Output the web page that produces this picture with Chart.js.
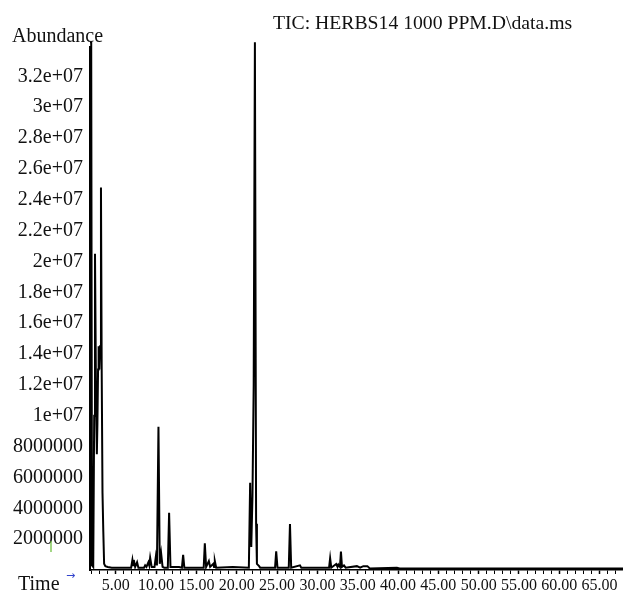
<!DOCTYPE html>
<html>
<head>
<meta charset="utf-8">
<script src="https://cdn.jsdelivr.net/npm/chart.js@4.4.1/dist/chart.umd.min.js"></script>
<style>
  body { margin: 0; background: #fff; }
</style>
</head>
<body>
<canvas id="ticChart" width="623" height="594"></canvas>
<script>
// retention time (min) and abundance
const times = [
    1.80, 1.95, 2.05, 2.20, 2.32, 2.42, 2.55, 2.65, 2.72, 2.80, 2.87, 2.95, 3.05, 3.16, 3.25, 3.35, 3.45, 3.55, 3.70, 4.00, 4.50,
    6.90, 7.06, 7.15, 7.23, 7.40, 7.64, 7.80,
    8.50, 8.64, 8.80, 9.04, 9.15, 9.26, 9.45, 9.80, 9.96, 10.10, 10.29, 10.45, 10.62, 10.80, 11.00,
    11.45, 11.61, 11.78, 12.85, 13.20, 13.35, 13.50,
    15.90, 16.04, 16.20, 16.54, 16.70, 17.10, 17.18, 17.28, 17.45,
    19.50, 21.50, 21.66, 21.80, 21.95, 22.10, 22.25, 22.40, 22.50, 22.77, 22.90,
    24.75, 24.89, 25.05,
    26.45, 26.60, 26.75, 27.84, 28.00,
    31.45, 31.58, 31.72, 32.33, 32.50, 32.60, 32.80, 32.92, 33.05, 33.30, 33.50,
    34.90, 35.30, 35.70, 36.20, 36.50,
    39.86, 40.20, 67.90
];
const abundance = [
    3.42e7, 3.42e7, 3e5, 2e5, 1.0e7, 2.05e7, 1.1e7, 7.5e6, 9.5e6, 1.3e7, 1.45e7, 1.3e7, 1.45e7, 2.48e7, 1.3e7, 5e6, 2.5e6, 4e5, 2.5e5, 2e5, 1.5e5,
    1.5e5, 6.5e5, 3e5, 6.5e5, 2e5, 5e5, 1.5e5,
    1.5e5, 3e5, 2e5, 5e5, 3e5, 8e5, 2e5, 2e5, 8.5e5, 3e5, 9.28e6, 4e5, 1.08e6, 2e5, 1.5e5,
    1.5e5, 3.71e6, 2e5, 2e5, 1.5e5, 9.9e5, 1.5e5,
    1.5e5, 1.73e6, 2e5, 5.8e5, 2e5, 4e5, 2e5, 5.8e5, 1.5e5,
    2e5, 1.5e5, 5.66e6, 1.5e6, 4.8e6, 1.2e7, 3.42e7, 3.0e6, 4e5, 2.5e5, 1.5e5,
    1.5e5, 1.21e6, 1.5e5,
    1.5e5, 2.98e6, 1.5e5, 3e5, 1.5e5,
    1.5e5, 7.6e5, 1.5e5, 3.9e5, 2e5, 3.5e5, 2e5, 1.19e6, 2e5, 3e5, 1.5e5,
    2.5e5, 1.5e5, 2.5e5, 2.5e5, 1e5,
    1.5e5, 1e5, 1e5
];
const yTickValues = [2e6, 4e6, 6e6, 8e6, 1e7, 1.2e7, 1.4e7, 1.6e7, 1.8e7, 2e7, 2.2e7, 2.4e7, 2.6e7, 2.8e7, 3e7, 3.2e7];
const yTickLabels = ['2000000', '4000000', '6000000', '8000000', '1e+07', '1.2e+07', '1.4e+07', '1.6e+07',
    '1.8e+07', '2e+07', '2.2e+07', '2.4e+07', '2.6e+07', '2.8e+07', '3e+07', '3.2e+07'];
const xMinorTicks = [2, 3, 4, 5, 6, 7, 8, 9, 10, 11, 12, 13, 14, 15, 16, 17, 18, 19, 20, 21, 22, 23, 24, 25, 26, 27, 28, 29, 30,
    31, 32, 33, 34, 35, 36, 37, 38, 39, 40, 41, 42, 43, 44, 45, 46, 47, 48, 49, 50, 51, 52, 53, 54, 55, 56, 57, 58, 59, 60,
    61, 62, 63, 64, 65, 66, 67];
const xTickLabels = ['5.00', '10.00', '15.00', '20.00', '25.00', '30.00', '35.00', '40.00', '45.00', '50.00', '55.00', '60.00', '65.00'];

const serif = 'Liberation Serif';

const extras = {
    id: 'extras',
    afterDraw(chart) {
        const ctx = chart.ctx;
        ctx.save();
        ctx.fillStyle = '#111';
        ctx.textBaseline = 'middle';
        ctx.textAlign = 'left';
        ctx.font = '20px "' + serif + '"';
        ctx.fillText('Abundance', 12, 37);
        ctx.fillText('Time', 18, 585);
        ctx.font = '19.7px "' + serif + '"';
        ctx.fillText('TIC: HERBS14 1000 PPM.D\\data.ms', 273, 24);
        ctx.fillStyle = '#3344cc';
        ctx.font = '11px "DejaVu Sans"';
        ctx.fillText('\u2192', 66, 576);
        ctx.strokeStyle = '#66bb33';
        ctx.lineWidth = 1.2;
        ctx.beginPath();
        ctx.moveTo(51, 541);
        ctx.lineTo(51, 552);
        ctx.stroke();
        ctx.restore();
    }
};

const ctx = document.getElementById('ticChart').getContext('2d');
new Chart(ctx, {
    type: 'line',
    data: {
        datasets: [{
            data: times.map((t, i) => ({ x: t, y: abundance[i] })),
            borderColor: '#000',
            borderWidth: 2,
            pointRadius: 0,
            tension: 0,
            fill: false,
            clip: false
        }]
    },
    options: {
        responsive: false,
        animation: false,
        layout: { padding: { top: 47, left: 0, right: 0, bottom: 0 } },
        plugins: { legend: { display: false }, tooltip: { enabled: false } },
        scales: {
            x: {
                type: 'linear',
                min: 1.8,
                max: 67.9,
                afterBuildTicks: s => { s.ticks = xMinorTicks.map(v => ({ value: v })); },
                afterFit: s => { s.height = 24; },
                border: { color: '#000', width: 1.5 },
                grid: {
                    drawOnChartArea: false,
                    tickLength: 4,
                    color: '#000',
                    tickWidth: c => (c.tick && c.tick.value % 5 === 0) ? 1.5 : 1
                },
                ticks: {
                    autoSkip: false,
                    maxRotation: 0,
                    padding: 2,
                    color: '#111',
                    font: { family: serif, size: 16 },
                    callback: v => v % 5 === 0 ? xTickLabels[v / 5 - 1] : ''
                }
            },
            y: {
                min: 0,
                max: 3.39e7,
                afterBuildTicks: s => { s.ticks = yTickValues.map(v => ({ value: v })); },
                afterFit: s => { s.width = 90; },
                border: { color: '#000', width: 2 },
                grid: { display: false, drawTicks: false },
                ticks: {
                    autoSkip: false,
                    padding: 7,
                    color: '#111',
                    font: { family: serif, size: 20 },
                    callback: (v, i) => yTickLabels[i]
                }
            }
        }
    },
    plugins: [extras]
});
</script>
</body>
</html>
